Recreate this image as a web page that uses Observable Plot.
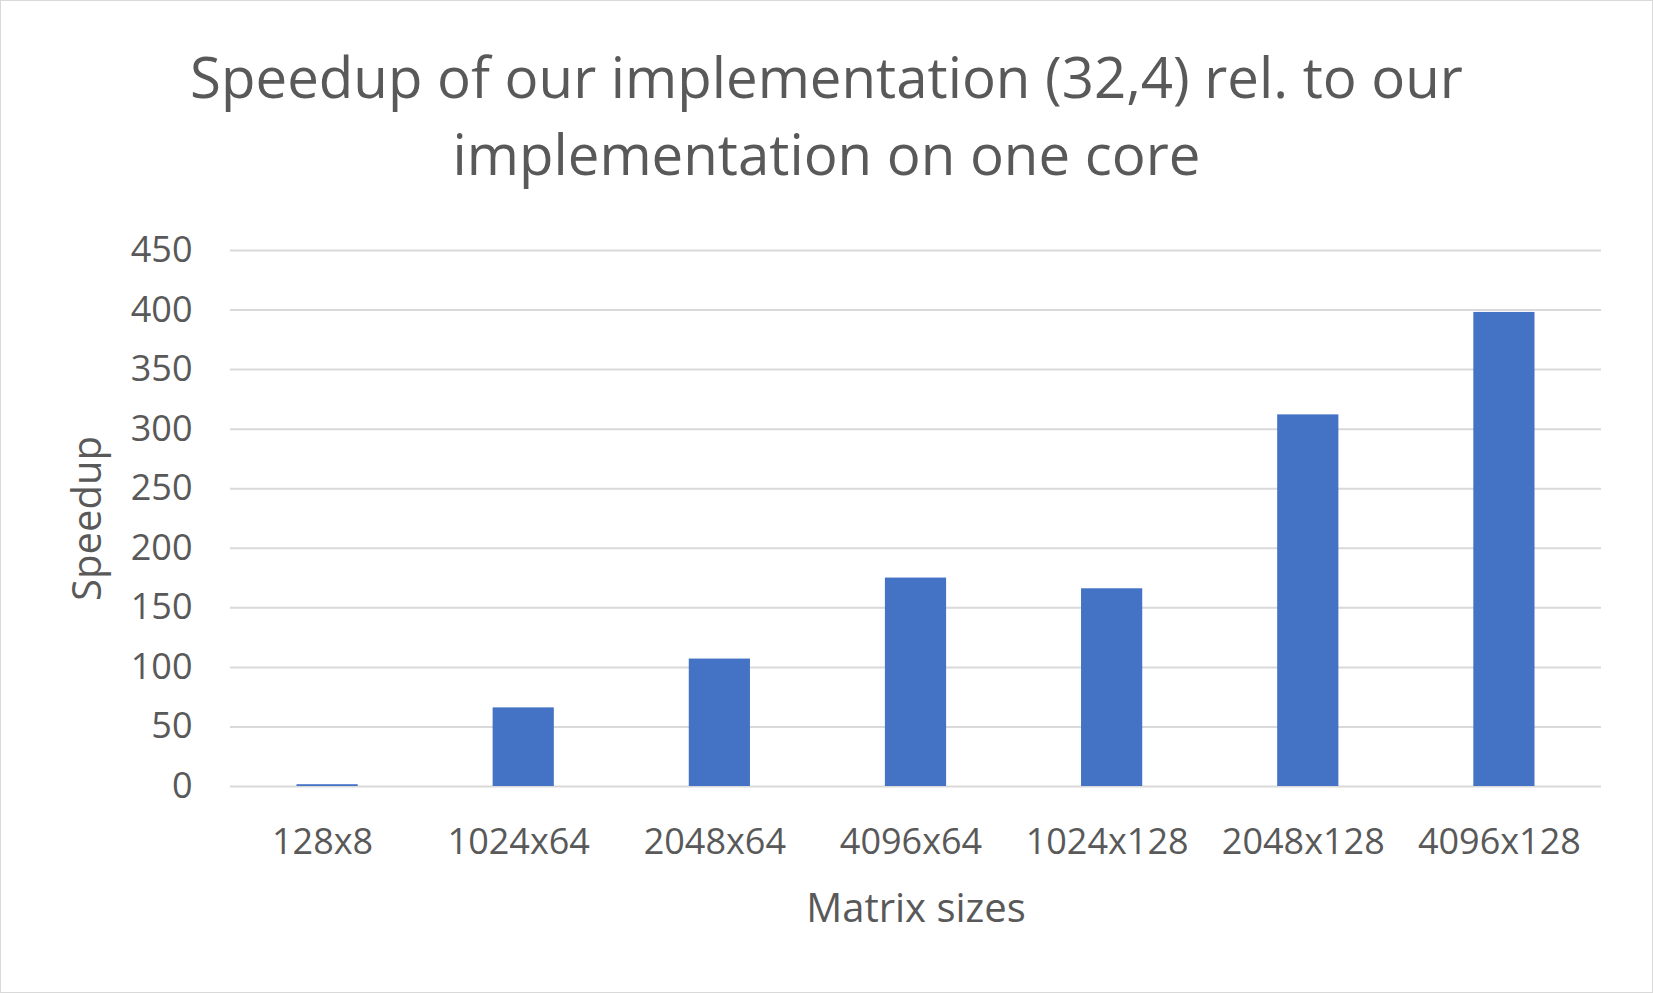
<!DOCTYPE html>
<html>
<head>
<meta charset="utf-8">
<script src="https://cdn.jsdelivr.net/npm/d3@7"></script>
<script src="https://cdn.jsdelivr.net/npm/@observablehq/plot@0.6"></script>
<style>
  html, body { margin: 0; padding: 0; background: #fff; }
  #chart {
    box-sizing: border-box; width: 1653px; height: 993px;
    border: 1px solid #d9d9d9; background: #fff; position: relative; overflow: hidden;
  }
  #title {
    height: 209px; box-sizing: border-box; padding-top: 37px;
    text-align: center; font-family: "Open Sans", sans-serif; font-size: 56.4px;
    line-height: 77px; color: #595959; white-space: nowrap;
  }
  svg { display: block; }
</style>
</head>
<body>
<div id="chart">
  <div id="title">Speedup of our implementation (32,4) rel. to our<br>implementation on one core</div>
</div>
<script>
const categories = ["128x8", "1024x64", "2048x64", "4096x64", "1024x128", "2048x128", "4096x128"];
const speedup = [1.5, 66, 107, 175, 166, 312, 398];
const yTicks = [0, 50, 100, 150, 200, 250, 300, 350, 400, 450];
const xTitle = "Matrix sizes";
const yTitle = "Speedup";

const data = categories.map((c, i) => ({category: c, value: speedup[i]}));

const plot = Plot.plot({
  width: 1651,
  height: 782,
  marginTop: 40,
  marginBottom: 206,
  marginLeft: 229,
  marginRight: 51,
  style: {fontFamily: "Open Sans, sans-serif", fontSize: "36px", color: "#595959", background: "#fff", overflow: "visible"},
  x: {domain: categories, paddingInner: 0.688, paddingOuter: 0.339, round: false, label: null},
  y: {domain: [0, 450], label: null},
  marks: [
    Plot.ruleY(yTicks, {stroke: "#d9d9d9", strokeWidth: 2}),
    Plot.barY(data, {x: "category", y: "value", fill: "#4472C4"}),
    Plot.axisY({ticks: yTicks, tickSize: 0, tickPadding: 38, label: null, fill: "#595959"}),
    Plot.axisX({tickSize: 0, tickPadding: 42, dx: -5, label: null, fill: "#595959"}),
    Plot.text([yTitle], {frameAnchor: "left", textAnchor: "middle", dx: -142, rotate: -90, fontSize: 40, fill: "#595959"}),
    Plot.text([xTitle], {frameAnchor: "bottom", dy: 135, fontSize: 40, fill: "#595959"})
  ]
});
document.getElementById("chart").appendChild(plot);
</script>
</body>
</html>
